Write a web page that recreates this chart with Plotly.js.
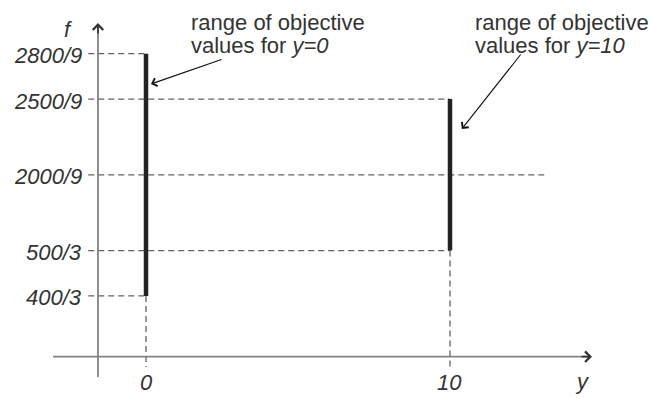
<!DOCTYPE html>
<html>
<head>
<meta charset="utf-8">
<script src="https://cdn.plot.ly/plotly-3.0.1.min.js"></script>
<style>html,body{margin:0;padding:0;background:#fff}#chart{width:654px;height:398px}</style>
</head>
<body>
<div id="chart"></div>
<script>
// ---- data ----
const yValues = [0, 10];
const fMin = [400/3, 500/3];
const fMax = [2800/9, 2500/9];
const fRef = 2000/9;
const yTickVals = [2800/9, 2500/9, 2000/9, 500/3, 400/3];
const yTickText = ['2800/9', '2500/9', '2000/9', '500/3', '400/3'];
const xTickVals = [0, 10];
const xTickText = ['0', '10'];
const noteLines = [
  ['range of objective', 'values for <i>y=0</i>'],
  ['range of objective', 'values for <i>y=10</i>']
];

// ---- layout constants (styling / geometry) ----
const W = 654, H = 398;
const XR = [-4.803, 16.711];
const YR = [58.48, 350.48];
const AXIS_X = -1.58;
const AXIS_F = 88.78;
const DASH_X0 = -1.9;
const REF_X1 = 13.1;
const DASH_F_BOTTOM = 81.2;
const FONT = 'Liberation Sans, Arial, Helvetica, sans-serif';
const FS = 22;
const TXT = '#333333';
const DASHC = '#626262';
const AXC = '#828282';

const traces = [];
const dashStyle = {color: DASHC, width: 1.3, dash: '6px,4px'};
for (let i = 0; i < yValues.length; i++) {
  [fMin[i], fMax[i]].forEach(f => {
    traces.push({x: [DASH_X0, yValues[i]], y: [f, f], mode: 'lines', line: dashStyle, hoverinfo: 'skip'});
  });
  traces.push({x: [yValues[i], yValues[i]], y: [fMin[i], DASH_F_BOTTOM], mode: 'lines', line: dashStyle, hoverinfo: 'skip'});
}
traces.push({x: [DASH_X0, REF_X1], y: [fRef, fRef], mode: 'lines', line: dashStyle, hoverinfo: 'skip'});
// axis lines
traces.push({x: [-3.06, 14.6], y: [AXIS_F, AXIS_F], mode: 'lines', line: {color: AXC, width: 1.8}, hoverinfo: 'skip'});
traces.push({x: [AXIS_X, AXIS_X], y: [73.9, 332.5], mode: 'lines', line: {color: AXC, width: 1.8}, hoverinfo: 'skip'});
// range bars
for (let i = 0; i < yValues.length; i++) {
  traces.push({x: [yValues[i], yValues[i]], y: [fMin[i], fMax[i]], mode: 'lines',
    line: {color: '#222222', width: 4.5}, hoverinfo: 'skip'});
}

const annotations = [];
// axis arrowheads
annotations.push({x: 14.67, y: AXIS_F, xref: 'x', yref: 'y', ax: -12, ay: 0,
  text: '', showarrow: true, arrowhead: 4, arrowsize: 1.2, arrowwidth: 1.7, arrowcolor: '#333', standoff: 0});
annotations.push({x: AXIS_X, y: 333.6, xref: 'x', yref: 'y', ax: 0, ay: 12,
  text: '', showarrow: true, arrowhead: 4, arrowsize: 1.2, arrowwidth: 1.7, arrowcolor: '#333', standoff: 0});
// y tick labels
yTickVals.forEach((v, i) => {
  annotations.push({x: -2.07, y: v, xref: 'x', yref: 'y', xanchor: 'right', yanchor: 'middle', yshift: -2,
    borderpad: 0, text: '<i>' + yTickText[i] + '</i>', showarrow: false, font: {family: FONT, size: FS, color: TXT}});
});
// x tick labels
xTickVals.forEach((v, i) => {
  annotations.push({x: v, y: 1 - 382 / H, xref: 'x', yref: 'paper', xanchor: 'center', yanchor: 'middle',
    borderpad: 0, text: '<i>' + xTickText[i] + '</i>', showarrow: false, font: {family: FONT, size: FS, color: TXT}});
});
// axis names
annotations.push({x: 582 / W, y: 1 - 381 / H, xref: 'paper', yref: 'paper', xanchor: 'center', yanchor: 'middle',
  borderpad: 0, text: '<i>y</i>', showarrow: false, font: {family: FONT, size: FS, color: TXT}});
annotations.push({x: 68 / W, y: 1 - 30 / H, xref: 'paper', yref: 'paper', xanchor: 'center', yanchor: 'middle',
  borderpad: 0, text: '<i>f</i>', showarrow: false, font: {family: FONT, size: FS, color: TXT}});
// notes
const noteX = [190, 474];
noteLines.forEach((lines, k) => {
  lines.forEach((t, j) => {
    annotations.push({x: noteX[k] / W, y: 1 - (23 + 23 * j) / H, xref: 'paper', yref: 'paper',
      xanchor: 'left', yanchor: 'middle', borderpad: 0, text: t, showarrow: false,
      font: {family: FONT, size: FS, color: TXT}});
  });
});
// pointer arrows
annotations.push({x: yValues[0] + 0.164, y: 288.85, xref: 'x', yref: 'y', ax: 72, ay: -25, text: '',
  showarrow: true, arrowhead: 4, arrowsize: 1.5, arrowwidth: 1.1, arrowcolor: '#111', standoff: 0});
annotations.push({x: yValues[1] + 0.39, y: 255.84, xref: 'x', yref: 'y', ax: 60, ay: -76, text: '',
  showarrow: true, arrowhead: 4, arrowsize: 1.5, arrowwidth: 1.1, arrowcolor: '#111', standoff: 0});

const layout = {
  width: W, height: H,
  margin: {l: 0, r: 0, t: 0, b: 0, pad: 0},
  paper_bgcolor: '#ffffff', plot_bgcolor: '#ffffff',
  showlegend: false,
  xaxis: {range: XR, visible: false, fixedrange: true},
  yaxis: {range: YR, visible: false, fixedrange: true},
  annotations: annotations
};
Plotly.newPlot('chart', traces, layout, {staticPlot: true, displayModeBar: false});
</script>
</body>
</html>
